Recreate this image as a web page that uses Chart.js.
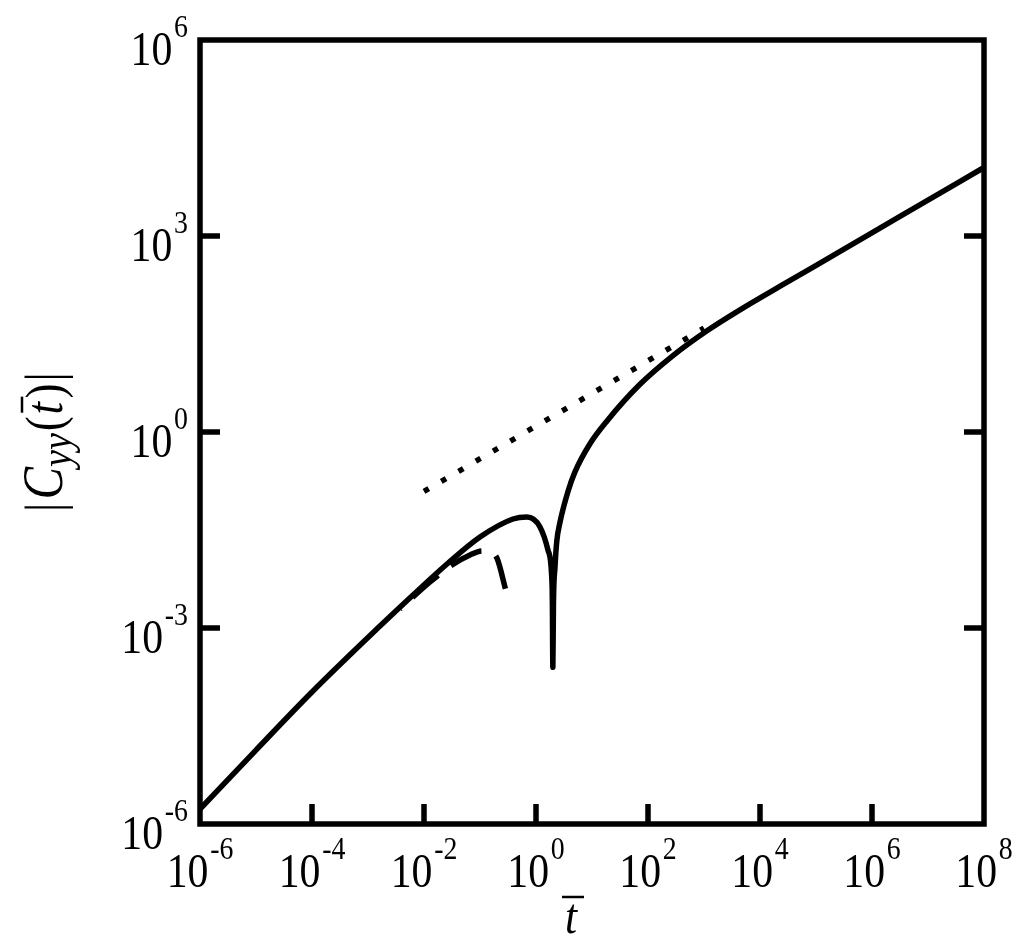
<!DOCTYPE html>
<html>
<head>
<meta charset="utf-8">
<script src="https://cdn.jsdelivr.net/npm/chart.js@4.4.1/dist/chart.umd.min.js"></script>
<style>
  html, body { margin: 0; padding: 0; background: #fff; }
  #wrap { width: 1024px; height: 949px; }
</style>
</head>
<body>
<div id="wrap"><canvas id="chart"></canvas></div>
<script>
// full correlation |C_yy(t)|
const solidT = [1e-6, 1e-5, 1e-4, 1.637e-3, 6.37e-3, 2.576e-2, 0.1, 0.388, 0.69, 1.178, 1.637, 1.932,
  1.96, 2.0, 2.05, 2.183, 2.35, 2.685, 3.724, 4.966, 9.204, 18.54, 71.94, 279.3, 1132, 4395,
  3.162e4, 2.0e5, 3.162e6, 1e8];
const solidC = [1.69e-6, 1.355e-5, 1.047e-4, 1.07e-3, 3.20e-3, 9.53e-3, 2.47e-2, 4.66e-2, 5.0e-2, 3.52e-2, 1.56e-2, 4.9e-3,
  2.4e-3, 2.5e-4, 2.4e-3, 8.51e-3, 2.13e-2, 4.17e-2, 0.123, 0.245, 0.661, 1.479, 5.37, 14.79, 35.48, 74.13,
  200, 501, 1995, 1.12e4];

// short time expansion (dashed)
const shortT = [3.72e-3, 1.28e-2, 3.16e-2, 6.62e-2, 0.1087, 0.151, 0.201, 0.291];
const shortC = [1.95e-3, 5.06e-3, 9.2e-3, 1.31e-2, 1.51e-2, 1.46e-2, 1.17e-2, 3.7e-3];

// long time asymptote (dotted)
const longT = [1e-2, 1e3];
const longC = [0.123, 38.9];

const xTickVals = [1e-6, 1e-4, 1e-2, 1e0, 1e2, 1e4, 1e6, 1e8];
const xTickExp = ['-6', '-4', '-2', '0', '2', '4', '6', '8'];
const yTickVals = [1e-6, 1e-3, 1e0, 1e3, 1e6];
const yTickExp = ['-6', '-3', '0', '3', '6'];

const SERIF = '"Liberation Serif", "DejaVu Serif", serif';
const SX = 0.87;
const LW = 5.5;

function pts(xs, ys) {
  return xs.map((v, i) => ({ x: v, y: ys[i] }));
}

function powLabel(ctx, exp, x, base, align) {
  ctx.font = '48px ' + SERIF;
  const w1 = ctx.measureText('10').width;
  ctx.font = '32px ' + SERIF;
  const w2 = ctx.measureText(exp).width;
  const total = (w1 + 2 + w2) * SX;
  let x0 = align === 'right' ? x - total : x - total / 2;
  ctx.save();
  ctx.translate(x0, base);
  ctx.scale(SX, 1);
  ctx.font = '48px ' + SERIF;
  ctx.fillText('10', 0, 0);
  ctx.font = '32px ' + SERIF;
  ctx.fillText(exp, w1 + 2, -28);
  ctx.restore();
}

const framePlugin = {
  id: 'frame',
  afterDraw(chart) {
    const ctx = chart.ctx;
    const a = chart.chartArea;
    const xs = chart.scales.x, ys = chart.scales.y;
    ctx.save();
    ctx.strokeStyle = '#000';
    ctx.fillStyle = '#000';
    ctx.lineWidth = LW;
    ctx.lineCap = 'butt';
    ctx.strokeRect(a.left, a.top, a.right - a.left, a.bottom - a.top);
    ctx.beginPath();
    xTickVals.slice(1, -1).forEach(v => {
      const px = xs.getPixelForValue(v);
      ctx.moveTo(px, a.bottom);
      ctx.lineTo(px, a.bottom - 20);
    });
    yTickVals.slice(1, -1).forEach(v => {
      const py = ys.getPixelForValue(v);
      ctx.moveTo(a.left, py);
      ctx.lineTo(a.left + 20, py);
      ctx.moveTo(a.right, py);
      ctx.lineTo(a.right - 20, py);
    });
    ctx.stroke();

    ctx.textBaseline = 'alphabetic';
    ctx.textAlign = 'left';
    xTickVals.forEach((v, i) => {
      powLabel(ctx, xTickExp[i], xs.getPixelForValue(v), a.bottom + 63, 'center');
    });
    yTickVals.forEach((v, i) => {
      powLabel(ctx, yTickExp[i], a.left - 12, ys.getPixelForValue(v) + 25, 'right');
    });

    // x title: t with bar
    ctx.save();
    ctx.translate(571, 933);
    ctx.scale(SX, 1);
    ctx.font = 'italic 50px ' + SERIF;
    ctx.textAlign = 'center';
    ctx.fillText('t', 0, 0);
    ctx.restore();
    ctx.lineWidth = 2.5;
    ctx.beginPath();
    ctx.moveTo(562, 897);
    ctx.lineTo(584, 897);
    ctx.stroke();

    // y title: |C_yy(t)|
    ctx.save();
    ctx.translate(62, 512);
    ctx.rotate(-Math.PI / 2);
    ctx.scale(SX, 1);
    const parts = [
      ['|', '52px ', 0, 4],
      ['C', 'italic 56px ', 0, 0],
      ['yy', 'italic 44px ', 9, 2],
      ['(', '52px ', 0, 2],
      ['t', 'italic 52px ', 0, 4],
      [')', '52px ', 0, 2],
      ['|', '52px ', 0, 0]
    ];
    let cx = 0, tx = 0;
    parts.forEach(p => {
      ctx.font = p[1] + SERIF;
      if (p[0] === 't') tx = cx;
      ctx.fillText(p[0], cx, p[2]);
      cx += ctx.measureText(p[0]).width + p[3];
    });
    ctx.font = 'italic 52px ' + SERIF;
    const tw = ctx.measureText('t').width;
    ctx.lineWidth = 2.5;
    ctx.beginPath();
    ctx.moveTo(tx + 2, -40);
    ctx.lineTo(tx + tw + 6, -40);
    ctx.stroke();
    ctx.restore();

    ctx.restore();
  }
};

new Chart(document.getElementById('chart'), {
  type: 'line',
  data: {
    datasets: [
      {
        data: pts(solidT, solidC),
        borderColor: '#000',
        borderWidth: LW,
        pointRadius: 0,
        cubicInterpolationMode: 'monotone',
        borderJoinStyle: 'round'
      },
      {
        data: pts(shortT, shortC),
        borderColor: '#000',
        borderWidth: LW,
        pointRadius: 0,
        cubicInterpolationMode: 'monotone',
        borderDash: [34, 16],
        borderDashOffset: 33
      },
      {
        data: pts(longT, longC),
        borderColor: '#000',
        borderWidth: LW,
        pointRadius: 0,
        borderDash: [5.5, 14.5]
      }
    ]
  },
  options: {
    responsive: true,
    maintainAspectRatio: false,
    animation: false,
    layout: { padding: { left: 200, top: 40, right: 40, bottom: 125 } },
    plugins: { legend: { display: false }, tooltip: { enabled: false } },
    scales: {
      x: { type: 'logarithmic', min: 1e-6, max: 1e8, display: false },
      y: { type: 'logarithmic', min: 1e-6, max: 1e6, display: false }
    }
  },
  plugins: [framePlugin]
});
</script>
</body>
</html>
